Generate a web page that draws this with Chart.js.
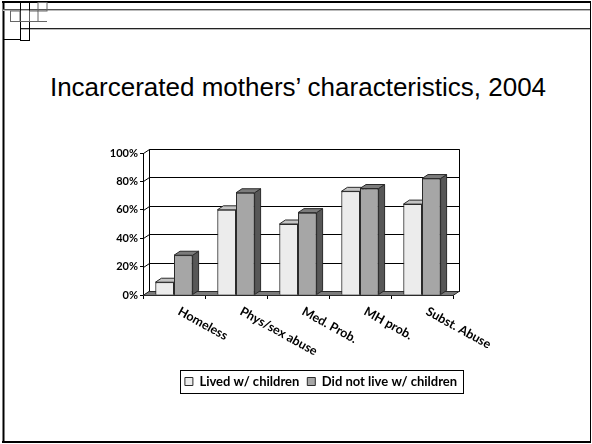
<!DOCTYPE html>
<html>
<head>
<meta charset="utf-8">
<script src="https://cdn.jsdelivr.net/npm/chart.js@4.4.0/dist/chart.umd.min.js"></script>
<style>
	html, body { margin: 0; padding: 0; background: #fff; }
	#diapositiva { position: relative; width: 592px; height: 444px; overflow: hidden; background: #fff; }
	#marco { position: absolute; left: 0; top: 0; }
	#titulo { position: absolute; left: 2px; top: 72px; width: 592px; text-align: center;
		font-family: "Liberation Sans", Arial, sans-serif; font-size: 26px; line-height: 30px; color: #000; }
	#myChart { position: absolute; left: 0; top: 0; }
</style>
</head>
<body>
<div id="diapositiva">
	<svg id="marco" width="592" height="444">
		<g fill="none" stroke="#000">
			<line x1="3.5" y1="1" x2="3.5" y2="443" stroke-width="2"/>
			<line x1="2" y1="2" x2="591" y2="2" stroke-width="2"/>
			<line x1="2" y1="442" x2="591" y2="442" stroke-width="2"/>
			<line x1="590.5" y1="2" x2="590.5" y2="443"/>
			<line x1="3" y1="9.5" x2="590" y2="9.5" stroke="#555"/>
			<line x1="3" y1="10.5" x2="590" y2="10.5" stroke="#bbb"/>
			<line x1="20" y1="28.5" x2="590" y2="28.5" stroke="#222"/>
			<line x1="20" y1="29.5" x2="590" y2="29.5" stroke="#bbb"/>
			<rect x="20.5" y="2" width="9" height="38.5"/>
			<line x1="3" y1="39.5" x2="20" y2="39.5"/>
			<rect x="10.5" y="11" width="9.5" height="10.5" stroke="#666"/>
			<rect x="29.5" y="11" width="8.5" height="10.5" stroke="#666"/>
			<rect x="38" y="2.5" width="9" height="8.5" stroke="#666"/>
			<line x1="20" y1="21.5" x2="47" y2="21.5" stroke="#666"/>
		</g>
	</svg>
	<div id="titulo">Incarcerated mothers’ characteristics, 2004</div>
	<canvas id="myChart" width="592" height="444"></canvas>
</div>
<script>
const categorias = ['Homeless', 'Phys/sex abuse', 'Med. Prob.', 'MH prob.', 'Subst. Abuse'];
const vivioConHijos = [9, 60, 50, 73, 64];
const noVivioConHijos = [28, 72, 58, 75, 82];
const marcasEje = [0, 20, 40, 60, 80, 100];

// profundidad del efecto 3D
const PROF_X = 6;
const PROF_Y = 4;

const coloresFrente = ['#ececec', '#a6a6a6'];
const coloresTapa = ['#c4c4c4', '#7c7c7c'];
const coloresLado = ['#9c9c9c', '#575757'];
const colorBorde = '#2a2a2a';

function poligono(ctx, puntos) {
	ctx.beginPath();
	ctx.moveTo(puntos[0][0], puntos[0][1]);
	for (let i = 1; i < puntos.length; i++)
		ctx.lineTo(puntos[i][0], puntos[i][1]);
	ctx.closePath();
	ctx.fill();
	ctx.stroke();
}

const efecto3D = {
	id: 'efecto3D',
	afterLayout(chart) {
		// la leyenda va centrada bajo las barras, no bajo todo el lienzo
		chart.legend.left += 43;
		chart.legend.right += 43;
	},
	beforeDatasetsDraw(chart) {
		const {ctx, chartArea: a, scales: {y}} = chart;
		ctx.save();
		ctx.lineWidth = 1;
		ctx.strokeStyle = '#000';
		ctx.fillStyle = '#fff';
		ctx.beginPath();
		ctx.rect(a.left + PROF_X + 0.5, a.top - PROF_Y + 0.5, a.width, a.height);
		ctx.fill();
		ctx.stroke();
		// lineas de la pared de fondo y pared izquierda
		y.ticks.forEach(t => {
			const py = Math.round(y.getPixelForValue(t.value)) + 0.5;
			ctx.beginPath();
			ctx.moveTo(a.left + 0.5, py);
			ctx.lineTo(a.left + PROF_X + 0.5, py - PROF_Y);
			ctx.lineTo(a.right + PROF_X + 0.5, py - PROF_Y);
			ctx.stroke();
		});
		// suelo
		ctx.fillStyle = '#7b7b7b';
		ctx.strokeStyle = colorBorde;
		poligono(ctx, [[a.left, a.bottom + 0.5], [a.right, a.bottom + 0.5],
			[a.right + PROF_X, a.bottom - PROF_Y + 0.5], [a.left + PROF_X, a.bottom - PROF_Y + 0.5]]);
		ctx.restore();
	},
	afterDatasetsDraw(chart) {
		const ctx = chart.ctx;
		const barras = [];
		chart.data.datasets.forEach((ds, i) => {
			chart.getDatasetMeta(i).data.forEach(el => barras.push({el: el, serie: i}));
		});
		// de izquierda a derecha, para que cada frente tape el lateral de la barra anterior
		barras.sort((p, q) => p.el.x - q.el.x);
		ctx.save();
		ctx.lineWidth = 1;
		ctx.strokeStyle = colorBorde;
		barras.forEach(b => {
			const {x, y, base, width} = b.el.getProps(['x', 'y', 'base', 'width'], true);
			const izq = x - width / 2;
			const der = x + width / 2;
			ctx.fillStyle = coloresLado[b.serie];
			poligono(ctx, [[der, y], [der + PROF_X, y - PROF_Y], [der + PROF_X, base - PROF_Y], [der, base]]);
			ctx.fillStyle = coloresTapa[b.serie];
			poligono(ctx, [[izq, y], [izq + PROF_X, y - PROF_Y], [der + PROF_X, y - PROF_Y], [der, y]]);
			b.el.draw(ctx);
		});
		ctx.restore();
	},
	afterDraw(chart) {
		const {ctx, chartArea: a, scales: {x}} = chart;
		ctx.save();
		// etiquetas de categoria giradas
		ctx.font = 'bold 12.5px Lato';
		ctx.fillStyle = '#000';
		ctx.textAlign = 'left';
		ctx.textBaseline = 'alphabetic';
		categorias.forEach((c, i) => {
			ctx.save();
			ctx.translate(x.getPixelForValue(i) + 3, a.bottom + 19);
			ctx.rotate(29 * Math.PI / 180);
			ctx.fillText(c, 0, 0);
			ctx.restore();
		});
		// recuadro de la leyenda
		const cajas = chart.legend.legendHitBoxes;
		if (cajas && cajas.length) {
			const ultima = cajas[cajas.length - 1];
			const izq = Math.round(cajas[0].left - 5) + 0.5;
			const der = Math.round(ultima.left + ultima.width + 6) + 0.5;
			const centro = cajas[0].top + cajas[0].height / 2;
			const arriba = Math.round(centro - 11.5) + 0.5;
			ctx.strokeStyle = '#000';
			ctx.lineWidth = 1;
			ctx.strokeRect(izq, arriba, der - izq, 23);
		}
		ctx.restore();
	}
};

var myChart = null;

function crearGrafico() {
	let canva = document.getElementById('myChart').getContext('2d');

	myChart = new Chart(canva, {
		type: 'bar',
		data: {
			labels: categorias,
			datasets: [{
				label: 'Lived w/ children',
				data: vivioConHijos,
				backgroundColor: coloresFrente[0],
				borderColor: colorBorde,
				borderWidth: 1
			}, {
				label: 'Did not live w/ children',
				data: noVivioConHijos,
				backgroundColor: coloresFrente[1],
				borderColor: colorBorde,
				borderWidth: 1
			}]
		},
		options: {
			responsive: false,
			animation: false,
			layout: { padding: { left: 103, right: 139, top: 153, bottom: 46 } },
			datasets: { bar: { categoryPercentage: 0.6, barPercentage: 1 } },
			scales: {
				x: {
					grid: { drawOnChartArea: false, tickLength: 4, color: '#000' },
					border: { color: '#000' },
					ticks: { display: false },
					afterFit(s) { s.height = 72; }
				},
				y: {
					min: 0,
					max: 100,
					afterBuildTicks(s) { s.ticks = marcasEje.map(v => ({ value: v })); },
					ticks: {
						callback: v => v + '%',
						font: { family: 'Lato', weight: 'bold', size: 11 },
						color: '#000',
						padding: 2
					},
					grid: { drawOnChartArea: false, tickLength: 3, color: '#000' },
					border: { color: '#000' },
					afterFit(s) { s.width = 40; }
				}
			},
			plugins: {
				legend: {
					position: 'bottom',
					labels: {
						font: { family: 'Lato', weight: 'bold', size: 13 },
						color: '#000',
						boxWidth: 8,
						boxHeight: 8,
						padding: 8
					}
				},
				tooltip: { enabled: false }
			}
		},
		plugins: [efecto3D]
	});
}

crearGrafico();
</script>
</body>
</html>
